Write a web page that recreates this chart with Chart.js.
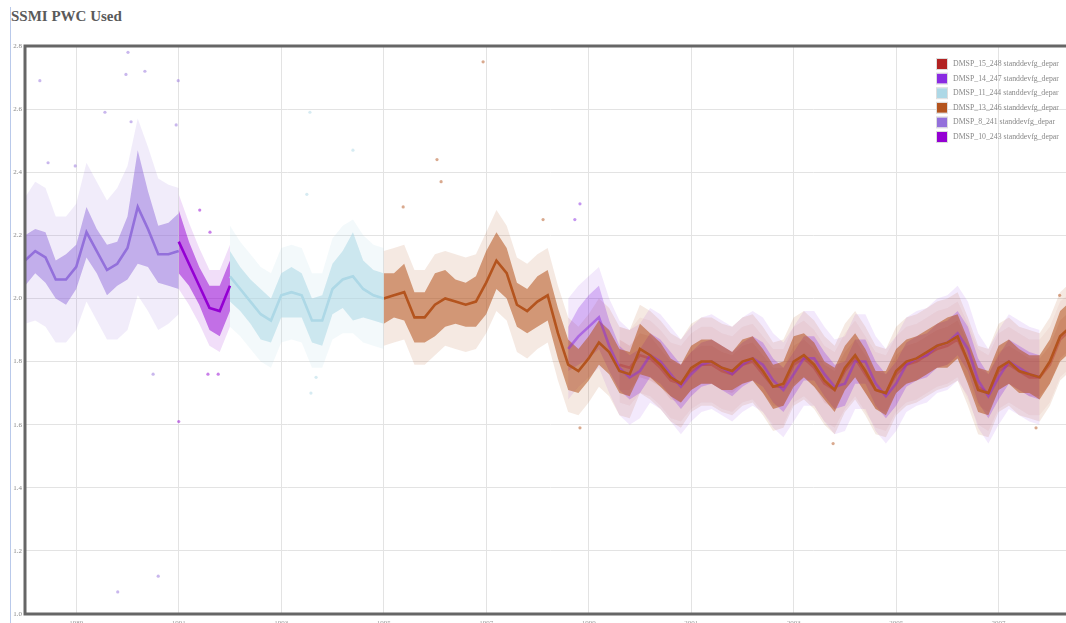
<!DOCTYPE html>
<html>
<head>
<meta charset="utf-8">
<script src="https://cdn.jsdelivr.net/npm/chart.js@4.4.1/dist/chart.umd.min.js"></script>
<style>
  html, body { margin: 0; padding: 0; overflow: hidden; background: #fff; width: 1066px; height: 623px; }
  #rule { position: absolute; left: 10px; top: 7px; bottom: 0; border-left: 1px solid #b9c9ea; }
  #title { position: absolute; left: 11px; top: 8px; font: bold 15px "Liberation Serif", serif; color: #5a5a5a; }
  #wrap { position: absolute; left: 0; top: 0; }
</style>
</head>
<body>
<div id="rule"></div>
<div id="title">SSMI PWC Used</div>
<div id="wrap"><canvas id="c" width="1080" height="650"></canvas></div>
<script>
const STEP = 0.2;
const tickYears = [1989, 1991, 1993, 1995, 1997, 1999, 2001, 2003, 2005, 2007];
const yTicks = [1.0, 1.2, 1.4, 1.6, 1.8, 2.0, 2.2, 2.4, 2.6, 2.8];

const satNames = [
  'DMSP_15_248 standdevfg_depar',
  'DMSP_14_247 standdevfg_depar',
  'DMSP_11_244 standdevfg_depar',
  'DMSP_13_246 standdevfg_depar',
  'DMSP_8_241 standdevfg_depar',
  'DMSP_10_243 standdevfg_depar'
];
const satColors = ['#b22222', '#8a2be2', '#add8e6', '#b4541e', '#9370db', '#9400d3'];

// F15
const f15Start = 1999.6;
const f15Mean = [1.79,1.78,1.82,1.81,1.78,1.74,1.73,1.77,1.79,1.79,1.77,1.76,1.79,1.80,1.76,1.72,1.72,1.79,1.81,1.78,1.73,1.71,1.77,1.81,1.76,1.71,1.70,1.76,1.79,1.80,1.82,1.84,1.85,1.87,1.80,1.72,1.70,1.77,1.79,1.77,1.75,1.75,1.79,1.87,1.90];
const f15Err  = [0.08,0.07,0.07,0.07,0.06,0.06,0.06,0.06,0.06,0.06,0.06,0.06,0.06,0.06,0.06,0.06,0.06,0.06,0.06,0.06,0.06,0.06,0.06,0.06,0.06,0.06,0.06,0.06,0.06,0.06,0.06,0.06,0.06,0.06,0.06,0.06,0.06,0.06,0.06,0.06,0.06,0.06,0.06,0.06,0.06];
const f15Dots = [0.12,0.12,0.12,0.12,0.12,0.12,0.12,0.12,0.12,0.12,0.12,0.12,0.12,0.12,0.12,0.12,0.12,0.12,0.12,0.12,0.12,0.12,0.12,0.12,0.12,0.12,0.12,0.12,0.12,0.12,0.12,0.12,0.12,0.12,0.12,0.12,0.12,0.12,0.12,0.12,0.12,0.12,0.12,0.12,0.12];

// F14
const f14Start = 1998.6;
const f14Mean = [1.84,1.88,1.91,1.94,1.85,1.78,1.75,1.77,1.82,1.80,1.76,1.72,1.76,1.79,1.80,1.78,1.76,1.79,1.81,1.79,1.74,1.71,1.76,1.81,1.81,1.76,1.72,1.73,1.80,1.80,1.73,1.69,1.73,1.79,1.81,1.82,1.85,1.86,1.89,1.84,1.74,1.69,1.75,1.80,1.78,1.76,1.75];
const f14Err  = [0.07,0.09,0.10,0.10,0.08,0.07,0.07,0.07,0.07,0.07,0.07,0.07,0.07,0.07,0.07,0.07,0.07,0.07,0.07,0.07,0.07,0.07,0.07,0.07,0.07,0.07,0.07,0.07,0.07,0.07,0.07,0.07,0.07,0.07,0.07,0.07,0.07,0.07,0.07,0.07,0.07,0.07,0.07,0.07,0.07,0.07,0.07];
const f14Dots = [0.16,0.16,0.16,0.16,0.15,0.15,0.15,0.15,0.15,0.15,0.15,0.15,0.15,0.15,0.15,0.15,0.15,0.15,0.15,0.15,0.15,0.15,0.15,0.15,0.15,0.15,0.15,0.15,0.15,0.15,0.15,0.15,0.15,0.15,0.15,0.15,0.15,0.15,0.15,0.15,0.15,0.15,0.15,0.15,0.15,0.15,0.15];

// F11
const f11Start = 1992.0;
const f11Mean = [2.07,2.03,1.99,1.95,1.93,2.01,2.02,2.01,1.93,1.93,2.03,2.06,2.07,2.03,2.01,2.00];
const f11Err  = [0.08,0.07,0.07,0.08,0.07,0.07,0.08,0.07,0.07,0.08,0.08,0.09,0.14,0.09,0.08,0.08];
const f11Dots = [0.16,0.15,0.15,0.15,0.15,0.15,0.15,0.15,0.15,0.15,0.16,0.17,0.18,0.17,0.16,0.16];

// F13
const f13Start = 1995.0;
const f13Mean = [2.00,2.01,2.02,1.94,1.94,1.98,2.00,1.99,1.98,1.99,
                 2.05,2.12,2.08,1.98,1.96,1.99,2.01,1.89,1.79,1.77,
                 1.81,1.86,1.83,1.77,1.76,1.84,1.82,1.79,1.75,1.73,
                 1.78,1.80,1.80,1.78,1.77,1.80,1.81,1.77,1.72,1.73,
                 1.80,1.82,1.79,1.74,1.71,1.78,1.82,1.77,1.71,1.70,
                 1.77,1.80,1.81,1.83,1.85,1.86,1.88,1.80,1.71,1.70,
                 1.78,1.80,1.77,1.76,1.75,1.80,1.88,1.91];
const f13Err  = [0.08,0.07,0.09,0.08,0.08,0.10,0.09,0.07,0.07,0.08,
                 0.10,0.09,0.08,0.07,0.07,0.08,0.08,0.08,0.08,0.07,
                 0.07,0.07,0.07,0.07,0.07,0.08,0.07,0.07,0.06,0.06,
                 0.07,0.07,0.07,0.07,0.06,0.07,0.07,0.07,0.07,0.07,
                 0.08,0.07,0.07,0.06,0.07,0.07,0.07,0.07,0.06,0.07,
                 0.07,0.07,0.07,0.07,0.07,0.08,0.07,0.07,0.07,0.07,
                 0.07,0.07,0.07,0.06,0.07,0.07,0.08,0.08];
const f13Dots = [0.15,0.15,0.15,0.15,0.15,0.16,0.15,0.15,0.15,0.15,
                 0.16,0.16,0.15,0.15,0.15,0.15,0.15,0.15,0.15,0.14,
                 0.14,0.14,0.14,0.14,0.14,0.14,0.14,0.14,0.14,0.14,
                 0.14,0.14,0.14,0.14,0.14,0.14,0.14,0.14,0.14,0.14,
                 0.14,0.14,0.14,0.14,0.14,0.14,0.14,0.14,0.14,0.14,
                 0.14,0.14,0.14,0.14,0.14,0.14,0.14,0.14,0.14,0.14,
                 0.14,0.14,0.14,0.14,0.14,0.14,0.14,0.14];

// F8
const f8Start = 1988.0;
const f8Mean = [2.12,2.15,2.13,2.06,2.06,2.10,2.21,2.15,2.09,2.11,2.16,2.29,2.22,2.14,2.14,2.15];
const f8Err  = [0.08,0.07,0.08,0.06,0.08,0.07,0.08,0.07,0.08,0.07,0.10,0.18,0.12,0.09,0.10,0.12];
const f8Dots = [0.20,0.22,0.22,0.20,0.20,0.20,0.22,0.22,0.22,0.24,0.26,0.28,0.26,0.24,0.22,0.20];

// F10
const f10Start = 1991.0;
const f10Mean = [2.18,2.11,2.04,1.97,1.96,2.04];
const f10Err  = [0.10,0.07,0.06,0.07,0.08,0.08];
const f10Dots = [0.15,0.13,0.12,0.12,0.13,0.13];

// stray points far from the bulk, [year, value]
const f8Outliers  = [[1988.29,2.69],[1988.45,2.43],[1988.98,2.42],[1989.56,2.59],[1989.97,2.71],[1990.01,2.78],[1990.07,2.56],[1990.34,2.72],[1989.81,1.07],[1990.60,1.12],[1990.50,1.76],[1990.95,2.55],[1990.99,2.69]];
const f10Outliers = [[1991.0,1.61],[1991.57,1.76],[1991.77,1.76],[1991.41,2.28],[1991.61,2.21]];
const f11Outliers = [[1993.56,2.59],[1993.50,2.33],[1994.40,2.47],[1993.68,1.75],[1993.58,1.70]];
const f13Outliers = [[1996.94,2.75],[1996.04,2.44],[1996.12,2.37],[1998.11,2.25],[1995.38,2.29],[2008.19,2.01],[1998.83,1.59],[2003.77,1.54],[2007.73,1.59]];
const f14Outliers = [[1998.83,2.30],[1998.73,2.25]];

// --- BUILD DATASETS ---
function rgba(hex, a) {
  const n = parseInt(hex.slice(1), 16);
  return `rgba(${(n >> 16) & 255}, ${(n >> 8) & 255}, ${n & 255}, ${a})`;
}
function pts(start, vals, off, sign) {
  return vals.map((v, i) => ({ x: start + i * STEP, y: off ? v + sign * off[i] : v }));
}
const datasets = [];
function band(start, mean, half, color, alpha, order) {
  datasets.push({ type: 'line', data: pts(start, mean, half, 1), borderWidth: 0, pointRadius: 0, fill: false, order });
  datasets.push({ type: 'line', data: pts(start, mean, half, -1), borderWidth: 0, pointRadius: 0,
    fill: '-1', backgroundColor: rgba(color, alpha), order });
}
function satellite(s) {
  band(s.start, s.mean, s.dots, s.color, s.dotAlpha, 100 + s.depth);
  datasets.push({ type: 'scatter', data: s.outliers.map(p => ({ x: p[0], y: p[1] })), pointRadius: 1.6,
    borderWidth: 0, backgroundColor: rgba(s.color, 0.5), order: 60 });
  band(s.start, s.mean, s.err, s.color, s.errAlpha, 20 + s.depth);
  datasets.push({ type: 'line', data: pts(s.start, s.mean), borderColor: rgba(s.color, s.lineAlpha), borderWidth: 2.6,
    pointRadius: 0, fill: false, tension: 0, order: 10 + s.depth });
}
satellite({ start: f15Start, mean: f15Mean, err: f15Err, dots: f15Dots, outliers: [], color: satColors[0],
            depth: 3, dotAlpha: 0.05, errAlpha: 0.1, lineAlpha: 0.3 });
satellite({ start: f14Start, mean: f14Mean, err: f14Err, dots: f14Dots, outliers: f14Outliers, color: satColors[1],
            depth: 2, dotAlpha: 0.10, errAlpha: 0.28, lineAlpha: 0.5 });
satellite({ start: f11Start, mean: f11Mean, err: f11Err, dots: f11Dots, outliers: f11Outliers, color: satColors[2],
            depth: 1, dotAlpha: 0.15, errAlpha: 0.55, lineAlpha: 1 });
satellite({ start: f13Start, mean: f13Mean, err: f13Err, dots: f13Dots, outliers: f13Outliers, color: satColors[3],
            depth: 1, dotAlpha: 0.13, errAlpha: 0.55, lineAlpha: 1 });
satellite({ start: f8Start, mean: f8Mean, err: f8Err, dots: f8Dots, outliers: f8Outliers, color: satColors[4],
            depth: 1, dotAlpha: 0.13, errAlpha: 0.5, lineAlpha: 1 });
satellite({ start: f10Start, mean: f10Mean, err: f10Err, dots: f10Dots, outliers: f10Outliers, color: satColors[5],
            depth: 1, dotAlpha: 0.13, errAlpha: 0.5, lineAlpha: 1 });

// --- PLUGINS ---
const framePlugin = {
  id: 'frame',
  afterDatasetsDraw(chart) {
    const { ctx, chartArea: a } = chart;
    ctx.save();
    ctx.strokeStyle = '#666';
    ctx.lineWidth = 3;
    ctx.beginPath();
    ctx.moveTo(a.right + 5, a.top);
    ctx.lineTo(a.left, a.top);
    ctx.lineTo(a.left, a.bottom);
    ctx.lineTo(a.right + 5, a.bottom);
    ctx.stroke();
    ctx.restore();
  }
};
const legendPlugin = {
  id: 'boxLegend',
  afterDraw(chart) {
    const { ctx, chartArea: a } = chart;
    ctx.save();
    ctx.font = '7.8px "Liberation Serif", serif';
    ctx.textBaseline = 'middle';
    satNames.forEach((name, i) => {
      const x = a.right - 139, y = a.top + 18 + i * 14.6;
      ctx.fillStyle = satColors[i];
      ctx.fillRect(x, y - 5, 10, 10);
      ctx.strokeStyle = '#ddd';
      ctx.lineWidth = 1;
      ctx.strokeRect(x - 0.5, y - 5.5, 11, 11);
      ctx.fillStyle = '#888';
      ctx.fillText(name, x + 16, y);
    });
    ctx.restore();
  }
};

// --- CHART ---
new Chart(document.getElementById('c'), {
  data: { datasets },
  options: {
    responsive: false,
    animation: false,
    events: [],
    layout: { padding: { left: 10, top: 46, right: 4, bottom: 0 } },
    plugins: { legend: { display: false }, tooltip: { enabled: false } },
    scales: {
      x: {
        type: 'linear', min: 1988, max: 2008.51,
        afterBuildTicks: s => { s.ticks = tickYears.map(v => ({ value: v })); },
        afterFit: s => { s.height = 36; },
        grid: { color: '#e3e3e3', lineWidth: 1, drawTicks: false },
        border: { display: false },
        ticks: { padding: 5, color: '#999', font: { family: 'Liberation Serif', size: 7 }, maxRotation: 0,
                 callback: v => String(v) }
      },
      y: {
        type: 'linear', min: 1.0, max: 2.8,
        afterBuildTicks: s => { s.ticks = yTicks.map(v => ({ value: v })); },
        afterFit: s => { s.width = 15; },
        grid: { color: '#e3e3e3', lineWidth: 1, drawTicks: false },
        border: { display: false },
        ticks: { padding: 3, color: '#888', font: { family: 'Liberation Serif', size: 7 },
                 callback: v => v.toFixed(1) }
      }
    }
  },
  plugins: [framePlugin, legendPlugin]
});
</script>
</body>
</html>
